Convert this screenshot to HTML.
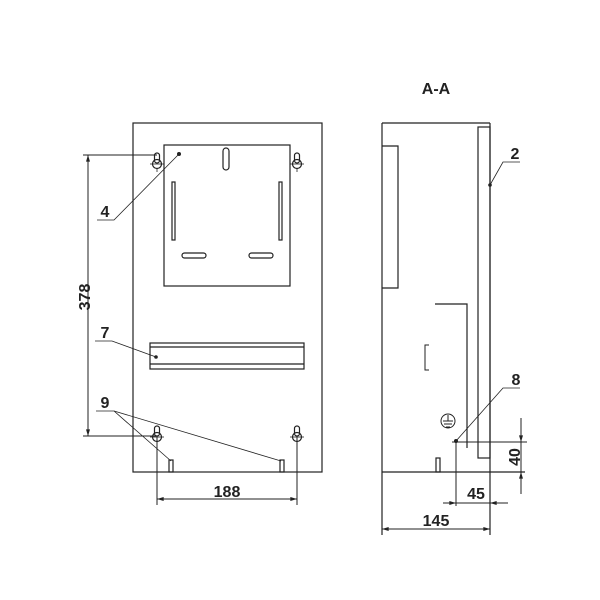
<!DOCTYPE html>
<html><head><meta charset="utf-8"><style>html,body{margin:0;padding:0;background:#fff}svg{display:block}</style></head>
<body>
<svg width="600" height="600" viewBox="0 0 600 600" xmlns="http://www.w3.org/2000/svg">
<defs>
<marker id="a" viewBox="0 0 10 6" refX="10" refY="3" markerWidth="10" markerHeight="4" orient="auto-start-reverse" markerUnits="userSpaceOnUse"><path d="M0,0 L10,3 L0,6z" fill="#222"/></marker>
</defs>
<g fill="none" stroke="#222" stroke-width="1.2">
<!-- front view -->
<rect x="133" y="123" width="189" height="349"/>
<rect x="164" y="145" width="126" height="141"/>
<rect x="223" y="148" width="6" height="22" rx="3"/>
<rect x="172" y="182" width="3" height="58"/>
<rect x="279" y="182" width="3" height="58"/>
<rect x="182" y="253" width="24" height="5" rx="2.5"/>
<rect x="249" y="253" width="24" height="5" rx="2.5"/>
<!-- keyholes -->
<g><circle cx="157" cy="164" r="4.5"/><rect x="154.5" y="153" width="5" height="10" rx="2.5"/><line x1="150" y1="164" x2="164" y2="164" stroke-width="0.8"/><line x1="157" y1="168" x2="157" y2="172" stroke-width="0.8"/></g>
<g><circle cx="297" cy="164" r="4.5"/><rect x="294.5" y="153" width="5" height="10" rx="2.5"/><line x1="290" y1="164" x2="304" y2="164" stroke-width="0.8"/><line x1="297" y1="168" x2="297" y2="172" stroke-width="0.8"/></g>
<g><circle cx="157" cy="437" r="4.5"/><rect x="154.5" y="426" width="5" height="10" rx="2.5"/><line x1="150" y1="437" x2="164" y2="437" stroke-width="0.8"/></g>
<g><circle cx="297" cy="437" r="4.5"/><rect x="294.5" y="426" width="5" height="10" rx="2.5"/><line x1="290" y1="437" x2="304" y2="437" stroke-width="0.8"/></g>
<!-- DIN rail -->
<rect x="150" y="343" width="154" height="26"/>
<line x1="150" y1="347" x2="304" y2="347"/>
<line x1="150" y1="364" x2="304" y2="364"/>
<!-- pins -->
<rect x="169" y="460" width="4" height="12"/>
<rect x="280" y="460" width="4" height="12"/>
<!-- dim 378 -->
<line x1="83" y1="155" x2="157" y2="155" stroke-width="1"/>
<line x1="83" y1="436" x2="157" y2="436" stroke-width="1"/>
<line x1="88" y1="155" x2="88" y2="436" stroke-width="1" marker-start="url(#a)" marker-end="url(#a)"/>
<!-- dim 188 -->
<line x1="157" y1="437" x2="157" y2="505" stroke-width="1"/>
<line x1="297" y1="437" x2="297" y2="505" stroke-width="1"/>
<line x1="157" y1="499" x2="297" y2="499" stroke-width="1" marker-start="url(#a)" marker-end="url(#a)"/>
<!-- leaders -->
<g stroke-width="0.8">
<polyline points="97,220 114,220 179,154"/>
<polyline points="95,341 112,341 156,357"/>
<polyline points="96,411 114,411 171,461"/>
<line x1="114" y1="411" x2="281" y2="461"/>
<polyline points="520,162 503,162 490,185"/>
<polyline points="520,388 503,388 456,441"/>
</g>
<!-- side view -->
<line x1="382" y1="123" x2="490" y2="123"/>
<line x1="382" y1="123" x2="382" y2="535"/>
<line x1="490" y1="123" x2="490" y2="535"/>
<line x1="382" y1="472" x2="525" y2="472"/>
<polyline points="382,146 398,146 398,288 382,288"/>
<rect x="478" y="127" width="12" height="331"/>
<polyline points="435,304 467,304 467,448"/>
<polyline points="429,345 425,345 425,370 429,370" stroke-width="1"/>
<circle cx="448" cy="421" r="7" stroke-width="1"/>
<line x1="448" y1="415" x2="448" y2="421" stroke-width="1"/>
<line x1="443" y1="421" x2="453" y2="421" stroke-width="1"/>
<line x1="444" y1="424" x2="452" y2="424" stroke-width="1"/>
<line x1="446" y1="427" x2="450" y2="427" stroke-width="1"/>
<rect x="436" y="458" width="4" height="14"/>
<!-- dims side -->
<line x1="452" y1="442" x2="527" y2="442" stroke-width="1"/>
<line x1="521" y1="418" x2="521" y2="442" stroke-width="1" marker-end="url(#a)"/>
<line x1="521" y1="494" x2="521" y2="472" stroke-width="1" marker-end="url(#a)"/>
<line x1="521" y1="442" x2="521" y2="472" stroke-width="1"/>
<line x1="456" y1="442" x2="456" y2="506" stroke-width="1"/>
<line x1="443" y1="503" x2="456" y2="503" stroke-width="1" marker-end="url(#a)"/>
<line x1="508" y1="503" x2="490" y2="503" stroke-width="1" marker-end="url(#a)"/>
<line x1="456" y1="503" x2="490" y2="503" stroke-width="1"/>
<line x1="382" y1="529" x2="490" y2="529" stroke-width="1" marker-start="url(#a)" marker-end="url(#a)"/>
</g>
<g fill="#222">
<circle cx="179" cy="154" r="2"/>
<circle cx="156" cy="357" r="1.8"/>
<circle cx="490" cy="185" r="1.8"/>
<circle cx="456" cy="441" r="2"/>
</g>
<g font-family="Liberation Sans, sans-serif" font-weight="bold" font-size="16" fill="#222">
<text x="436" y="94" text-anchor="middle">A-A</text>
<text x="105" y="217" text-anchor="middle">4</text>
<text x="105" y="338" text-anchor="middle">7</text>
<text x="105" y="408" text-anchor="middle">9</text>
<text x="515" y="159" text-anchor="middle">2</text>
<text x="516" y="385" text-anchor="middle">8</text>
<text x="227" y="497" text-anchor="middle">188</text>
<text x="476" y="499" text-anchor="middle">45</text>
<text x="436" y="526" text-anchor="middle">145</text>
<text transform="translate(90,297) rotate(-90)" text-anchor="middle">378</text>
<text transform="translate(520,457) rotate(-90)" text-anchor="middle">40</text>
</g>
</svg>
</body></html>
